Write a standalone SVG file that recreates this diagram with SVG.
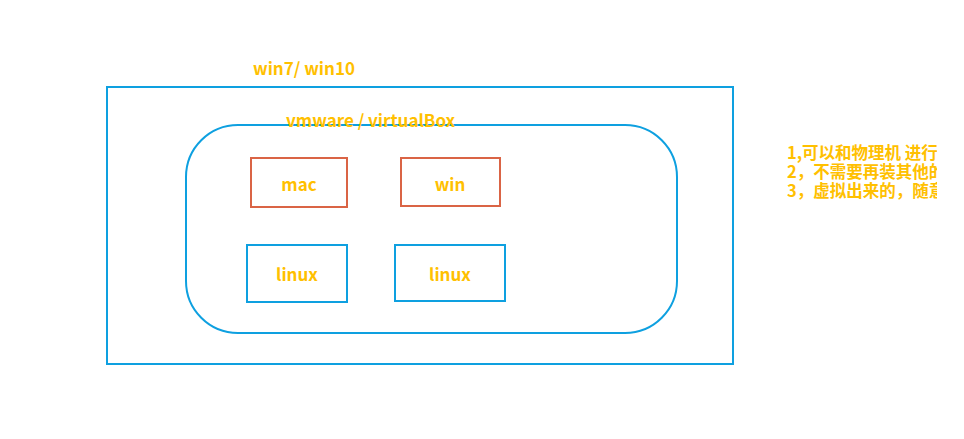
<svg xmlns="http://www.w3.org/2000/svg" width="964" height="439" viewBox="0 0 964 439">
<style>
.t{font-family:"Noto Sans CJK SC","Liberation Sans",sans-serif;font-weight:bold;font-size:17px;fill:#FFC000}
.n{font-size:16.5px}
.c{text-anchor:middle;dominant-baseline:central}
.b{fill:none;stroke:#0EA0E0;stroke-width:2}
.o{fill:none;stroke:#DA6445;stroke-width:2}
</style>
<defs><clipPath id="cp"><rect x="700" y="130" width="237" height="80"/></clipPath></defs>
<rect width="964" height="439" fill="#fff"/>
<g id="host">
<rect class="b" x="107" y="87" width="626" height="277"/>
<text class="t" x="253" y="75">win7/ win10</text>
</g>
<g id="vm">
<rect class="b" x="186" y="125" width="491" height="208" rx="52"/>
<text class="t" x="286" y="127">vmware / virtualBox</text>
</g>
<g id="mac"><rect class="o" x="251" y="158" width="96" height="49"/><text class="t c" x="299" y="183">mac</text></g>
<g id="win"><rect class="o" x="401" y="158" width="99" height="48"/><text class="t c" x="450" y="183">win</text></g>
<g id="linux1"><rect class="b" x="247" y="245" width="100" height="57"/><text class="t c" x="297" y="273">linux</text></g>
<g id="linux2"><rect class="b" x="395" y="245" width="110" height="56"/><text class="t c" x="450" y="273">linux</text></g>
<g id="notes" clip-path="url(#cp)">
<text class="t n" x="787" y="159"><tspan x="787" y="159">1,可以和物理机 进行</tspan><tspan x="787" y="178">2，不需要再装其他的</tspan><tspan x="787" y="197">3，虚拟出来的，随意</tspan></text>
</g>
<g id="connectors"/>
</svg>
